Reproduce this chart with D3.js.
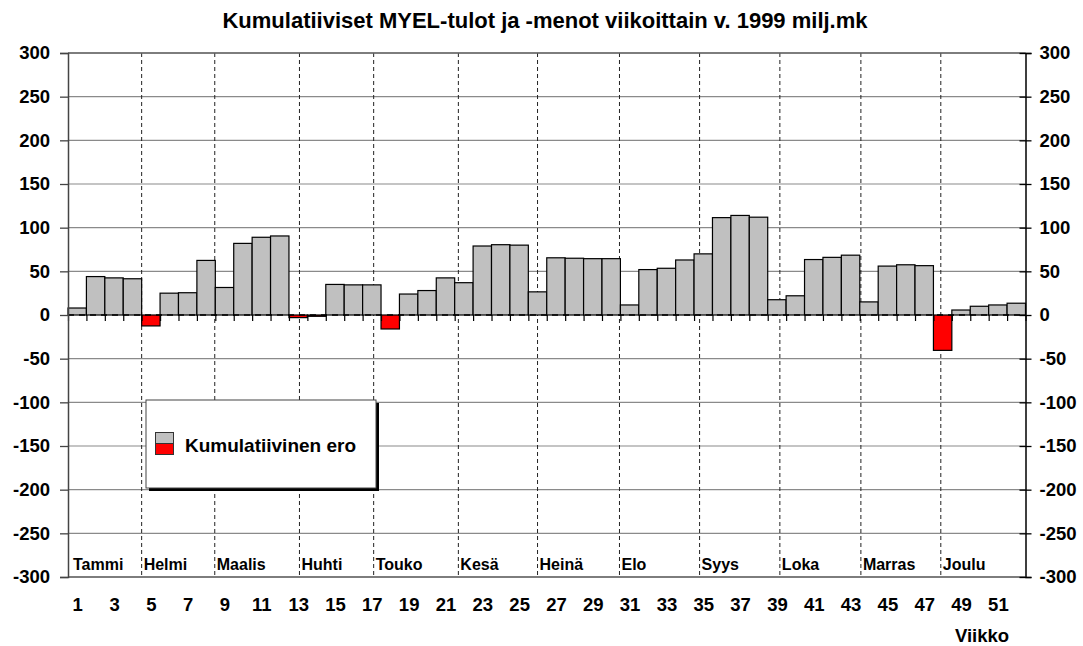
<!DOCTYPE html>
<html><head><meta charset="utf-8">
<script src="https://cdn.jsdelivr.net/npm/d3@7"></script>
<style>
body{margin:0;background:#fff;}
text{font-family:"Liberation Sans",Arial,sans-serif;font-weight:bold;fill:#000;}
</style></head>
<body><svg id="c" width="1083" height="646"></svg>
<script>
const weeks = d3.range(1, 53);
const values = [8, 44, 42.5, 41.5, -12.5, 25, 25.5, 62.5, 31.5, 82, 89, 90.5, -3, -1.5, 35, 34.5,
  34.5, -16, 24, 28, 42.5, 37, 79, 80.5, 80, 26.5, 65.5, 65, 64.5, 64.5, 11.5, 52,
  53.5, 63, 70, 111.5, 114, 112, 17.5, 22, 63.5, 66, 68.5, 15, 56, 57.5, 56.5, -40.5,
  5.7, 10, 11.5, 13.5];
const months = ["Tammi","Helmi","Maalis","Huhti","Touko","Kesä","Heinä","Elo","Syys","Loka","Marras","Joulu"];
const monthStarts = [0, 4.0, 7.97, 12.57, 16.6, 21.2, 25.5, 29.95, 34.3, 38.66, 43.06, 47.4];
const yTicks = d3.range(-300, 301, 50);
const weekLabels = d3.range(1, 53, 2);
const title = "Kumulatiiviset MYEL-tulot ja -menot viikoittain v. 1999 milj.mk";
const legendLabel = "Kumulatiivinen ero";
const xTitle = "Viikko";

const svg = d3.select("#c");
const L = 68, R = 1025.5, T = 53, B = 577;
const x = d3.scaleLinear().domain([0, 52]).range([L, R]);
const y = d3.scaleLinear().domain([-300, 300]).range([B, T]);
const FS = "18.5px";

// title
svg.append("text").attr("x", 545).attr("y", 27.5).attr("text-anchor", "middle")
  .style("font-size", "22px").text(title);

// gridlines
svg.append("g").selectAll("line").data(yTicks.filter(d => d !== 0)).join("line")
  .attr("x1", L).attr("x2", R).attr("y1", d => y(d)).attr("y2", d => y(d))
  .attr("stroke", "#8a8a8a").attr("stroke-width", 1.2);

// month boundaries
svg.append("g").selectAll("line").data(monthStarts.slice(1)).join("line")
  .attr("x1", d => x(d)).attr("x2", d => x(d)).attr("y1", T).attr("y2", B)
  .attr("stroke", "#222").attr("stroke-width", 1).attr("stroke-dasharray", "4,3");

// month labels
svg.append("g").selectAll("text").data(months).join("text")
  .attr("x", (d, i) => x(monthStarts[i]) + (i === 0 ? 5 : 2)).attr("y", 570)
  .style("font-size", "16px").text(d => d);

// bars
svg.append("g").selectAll("rect").data(values).join("rect")
  .attr("x", (d, i) => x(weeks[i] - 1)).attr("width", (d, i) => x(weeks[i]) - x(weeks[i] - 1))
  .attr("y", d => y(Math.max(0, d))).attr("height", d => Math.abs(y(d) - y(0)))
  .attr("fill", d => d < 0 ? "#ff0000" : "#c0c0c0")
  .attr("stroke", "#000").attr("stroke-width", 1.2);

// zero line dashed + ticks
svg.append("line").attr("x1", L).attr("x2", R).attr("y1", y(0)).attr("y2", y(0))
  .attr("stroke", "#000").attr("stroke-width", 1.5).attr("stroke-dasharray", "6,5");
const xTickAxis = svg.append("g").attr("transform", `translate(0,${y(0)})`)
  .call(d3.axisBottom(x).tickValues(d3.range(0, 53)).tickSize(6).tickFormat(""));
xTickAxis.select(".domain").remove();
xTickAxis.selectAll("line").attr("stroke", "#000").attr("stroke-width", 1.2);

// top and bottom borders
svg.append("line").attr("x1", L).attr("x2", R).attr("y1", T).attr("y2", T).attr("stroke", "#666").attr("stroke-width", 1.5);
svg.append("line").attr("x1", L).attr("x2", R).attr("y1", B).attr("y2", B).attr("stroke", "#666").attr("stroke-width", 1.5);

// left axis
const fmt = d => String(d);
const la = svg.append("g").attr("transform", `translate(${L},0)`)
  .call(d3.axisLeft(y).tickValues(yTicks).tickSize(8).tickPadding(10).tickFormat(fmt));
la.select(".domain").attr("stroke", "#444").attr("stroke-width", 1.5);
la.selectAll("line").attr("stroke", "#444").attr("stroke-width", 1.3);
la.selectAll("text").style("font-size", FS).style("font-family", "Liberation Sans, Arial, sans-serif").style("font-weight", "bold");

// right axis
const ra = svg.append("g").attr("transform", `translate(${R},0)`)
  .call(d3.axisRight(y).tickValues(yTicks).tickSize(6).tickPadding(8).tickFormat(fmt));
ra.select(".domain").attr("stroke", "#000").attr("stroke-width", 1.5);
ra.selectAll("line").attr("x1", -6).attr("stroke", "#000").attr("stroke-width", 1.3);
ra.selectAll("text").style("font-size", FS).style("font-family", "Liberation Sans, Arial, sans-serif").style("font-weight", "bold");

// week labels
const xc = d3.scaleLinear().domain([0.5, 52.5]).range([L, R]);
const wa = svg.append("g").attr("transform", `translate(0,598)`)
  .call(d3.axisBottom(xc).tickValues(weekLabels).tickSize(0).tickPadding(0).tickFormat(fmt));
wa.select(".domain").remove();
wa.selectAll("text").attr("dy", "0.71em").style("font-size", FS).style("font-family", "Liberation Sans, Arial, sans-serif").style("font-weight", "bold");

svg.append("text").attr("x", 982).attr("y", 642).attr("text-anchor", "middle")
  .style("font-size", FS).text(xTitle);

// legend
const lg = svg.append("g");
lg.append("rect").attr("x", 149).attr("y", 403).attr("width", 230).attr("height", 88).attr("fill", "#000");
lg.append("rect").attr("x", 146).attr("y", 400).attr("width", 230).attr("height", 88)
  .attr("fill", "#fff").attr("stroke", "#444").attr("stroke-width", 1);
lg.append("rect").attr("x", 155.5).attr("y", 432.5).attr("width", 18).attr("height", 11).attr("fill", "#c0c0c0").attr("stroke", "#333");
lg.append("rect").attr("x", 155.5).attr("y", 443.5).attr("width", 18).attr("height", 11).attr("fill", "#ff0000").attr("stroke", "#333");
lg.append("text").attr("x", 185).attr("y", 452).style("font-size", "19px").text(legendLabel);
</script></body></html>
